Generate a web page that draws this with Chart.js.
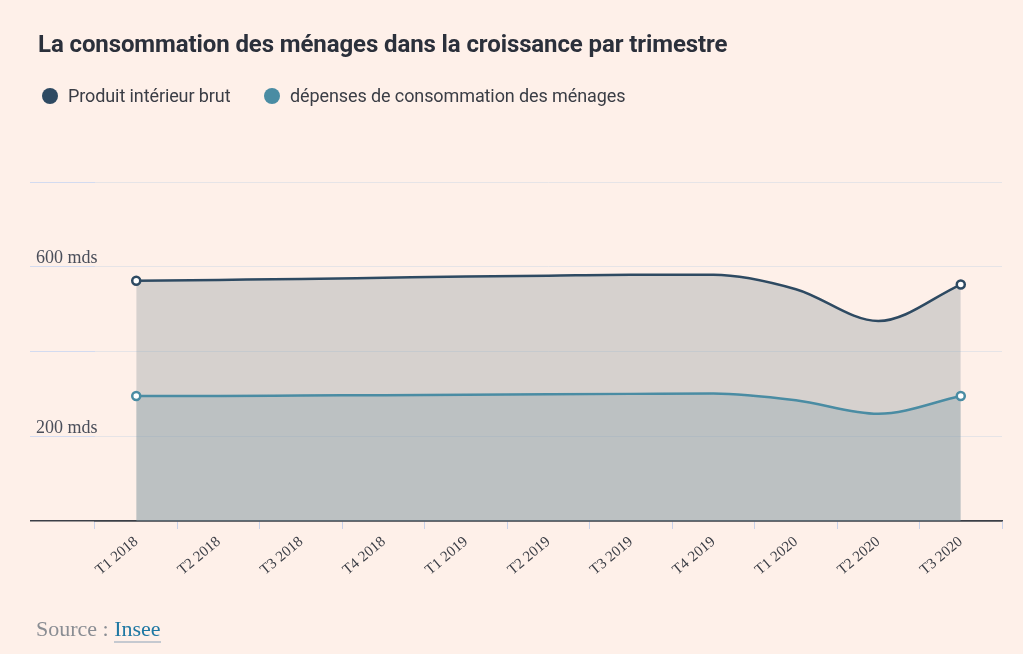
<!DOCTYPE html>
<html>
<head>
<meta charset="utf-8">
<script src="https://cdn.jsdelivr.net/npm/chart.js@4/dist/chart.umd.min.js"></script>
<style>
  html, body { margin: 0; padding: 0; background: #fef0e9; }
  #wrap { position: relative; width: 1023px; height: 654px; overflow: hidden; }
  #box { position: absolute; left: 0; top: 0; width: 1023px; height: 654px; }
  h1 { position: absolute; left: 38px; top: 30px; margin: 0; font: 700 24px Roboto, sans-serif; color: #2b303b; letter-spacing: -0.1px; }
  .leg { position: absolute; top: 85px; font: 400 18px Roboto, sans-serif; color: #3a3d45; letter-spacing: -0.1px; }
  .leg i { display: inline-block; width: 16px; height: 16px; border-radius: 50%; vertical-align: -2px; margin-right: 10px; }
  #source { position: absolute; left: 36px; top: 616px; font: 22px "Liberation Serif", serif; color: #8a8d93; }
  #source a { color: #1f78a3; text-decoration: none; border-bottom: 2px solid #c5c9d0; padding-bottom: 0px; }
</style>
</head>
<body>
<div id="wrap">
  <div id="box"><canvas id="plot"></canvas></div>
  <h1>La consommation des ménages dans la croissance par trimestre</h1>
  <div class="leg" style="left:42px"><i style="background:#2e4a62"></i>Produit intérieur brut</div>
  <div class="leg" style="left:264px"><i style="background:#4a8ca3"></i>dépenses de consommation des ménages</div>
  <div id="source">Source : <a>Insee</a></div>
</div>
<script>
const quarters = ['T1 2018', 'T2 2018', 'T3 2018', 'T4 2018', 'T1 2019', 'T2 2019',
                  'T3 2019', 'T4 2019', 'T1 2020', 'T2 2020', 'T3 2020'];
// milliards d'euros
const pib = [567, 569, 571, 574, 577, 579, 581, 581, 547, 472, 558];
const conso = [295, 295, 296, 297, 298, 299, 300, 301, 285, 253, 295];
const yTicksShown = [200, 600];

const dark = '#3b3f47';
const endsOnly = (ctx) => (ctx.dataIndex === 0 || ctx.dataIndex === quarters.length - 1) ? 4 : 0;

new Chart(document.getElementById('plot'), {
    type: 'line',
    data: {
        labels: quarters,
        datasets: [
        {
            label: 'Produit intérieur brut',
            data: pib,
            borderColor: '#2e4a62',
            borderWidth: 2.5,
            backgroundColor: 'rgba(124,140,146,0.3)',
            fill: 'origin',
            cubicInterpolationMode: 'monotone',
            pointRadius: endsOnly,
            pointBackgroundColor: '#ffffff',
            pointBorderColor: '#2e4a62',
            pointBorderWidth: 2.5,
            order: 1
        },
        {
            label: 'dépenses de consommation des ménages',
            data: conso,
            borderColor: '#4a8ca3',
            borderWidth: 2.5,
            backgroundColor: 'rgba(125,153,167,0.3)',
            fill: 'origin',
            cubicInterpolationMode: 'monotone',
            pointRadius: endsOnly,
            pointBackgroundColor: '#ffffff',
            pointBorderColor: '#4a8ca3',
            pointBorderWidth: 2.5,
            order: 0
        }
        ]
    },
    options: {
        responsive: true,
        maintainAspectRatio: false,
        animation: false,
        layout: { padding: { left: 36, right: 21, top: 182, bottom: 0 } },
        scales: {
            x: {
                offset: true,
                z: 1,
                afterFit: (s) => { s.height = 133; },
                grid: { offset: true, drawOnChartArea: false, tickColor: '#c8d2ea', tickLength: 8 },
                border: { display: true, color: dark, width: 1.5 },
                ticks: {
                    minRotation: 40, maxRotation: 40, padding: 4,
                    font: { family: 'Liberation Serif', size: 15 },
                    color: '#3a3d45'
                }
            },
            y: {
                min: 0,
                max: 800,
                afterFit: (s) => { s.width = 59; },
                border: { display: false },
                grid: {
                    tickLength: 65,
                    color: (ctx) => ctx.tick && ctx.tick.value === 0 ? dark : 'rgba(214,220,230,0.6)',
                    tickColor: (ctx) => ctx.tick && ctx.tick.value === 0 ? dark : '#d3dbf0',
                    lineWidth: (ctx) => ctx.tick && ctx.tick.value === 0 ? 1.5 : 1
                },
                ticks: {
                    stepSize: 200,
                    mirror: true,
                    crossAlign: 'near',
                    padding: -59,
                    labelOffset: -8,
                    font: { family: 'Liberation Serif', size: 18 },
                    color: '#4a4e5a',
                    callback: (v) => yTicksShown.includes(v) ? v + ' mds' : ''
                }
            }
        },
        plugins: {
            legend: { display: false },
            tooltip: { enabled: false }
        }
    }
});
</script>
</body>
</html>
